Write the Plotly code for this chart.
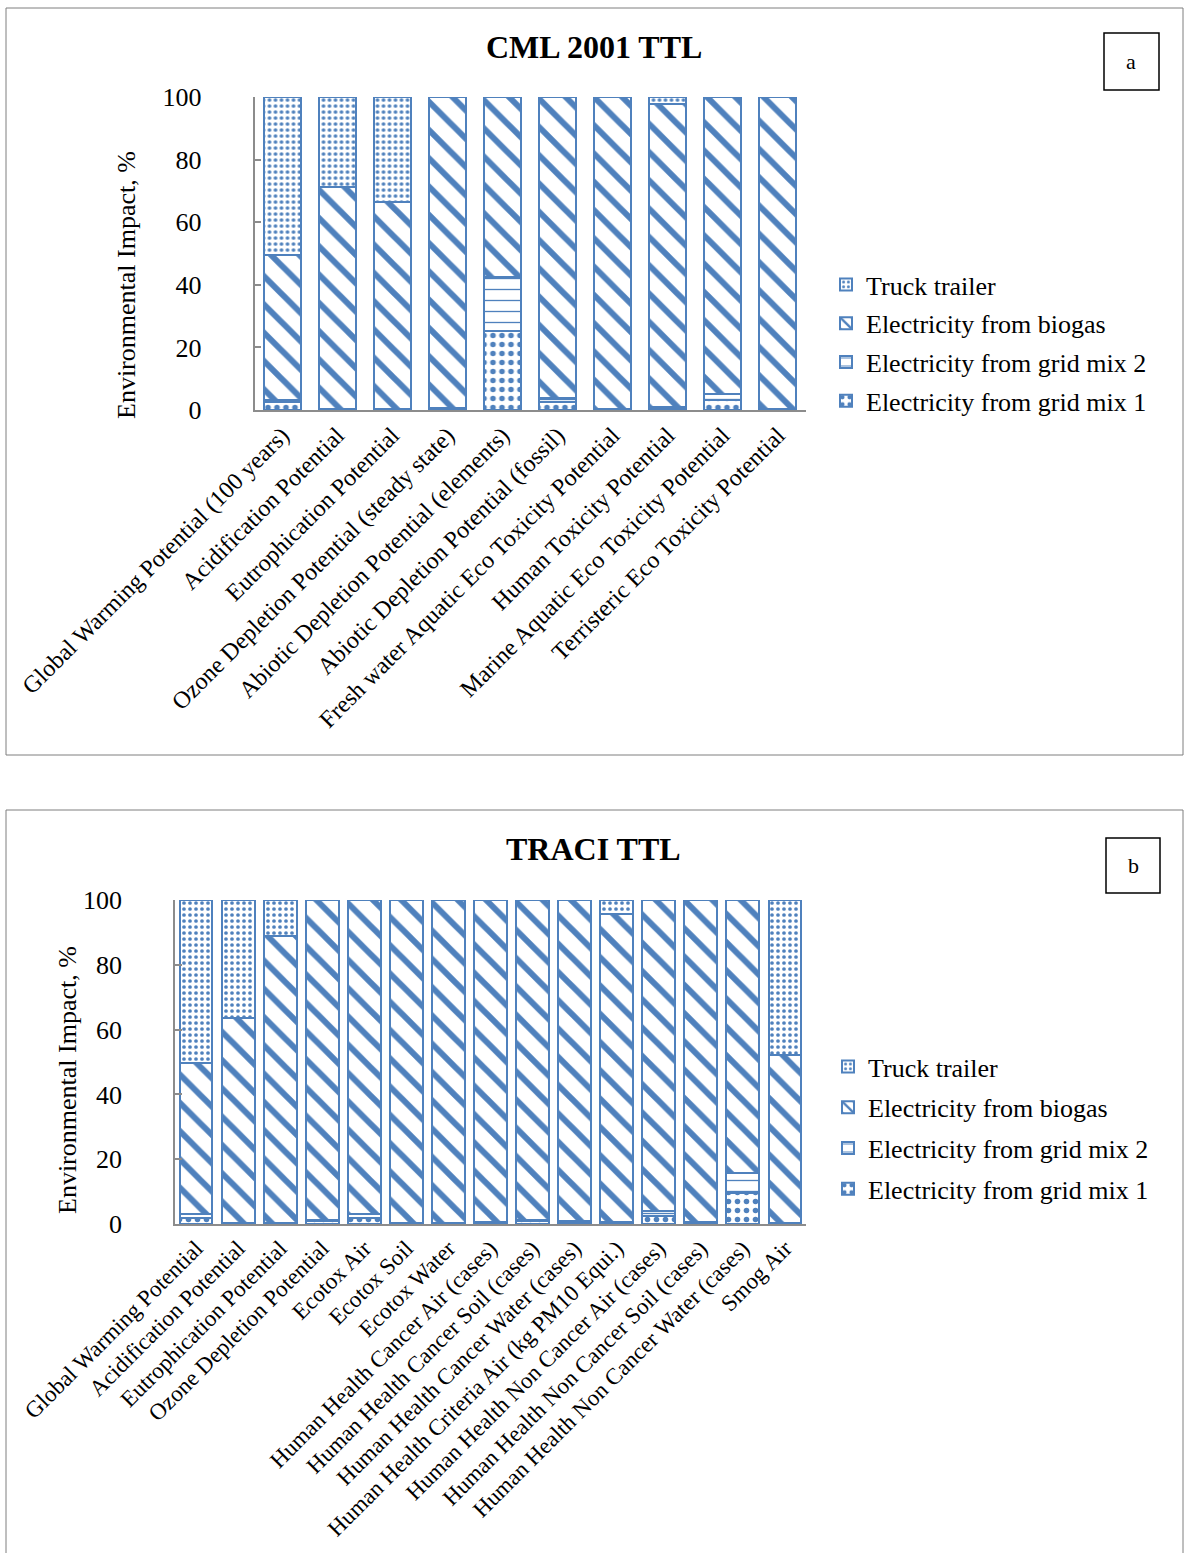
import plotly.graph_objects as go

# ---------------- data ----------------
series = ["Electricity from grid mix 1", "Electricity from grid mix 2",
          "Electricity from biogas", "Truck trailer"]
legend_rank = {"Truck trailer": 1, "Electricity from biogas": 2,
               "Electricity from grid mix 2": 3, "Electricity from grid mix 1": 4}

cats_a = ["Global Warming Potential (100 years)", "Acidification Potential",
          "Eutrophication Potential", "Ozone Depletion Potential (steady state)",
          "Abiotic Depletion Potential (elements)", "Abiotic Depletion Potential (fossil)",
          "Fresh water Aquatic Eco Toxicity Potential", "Human Toxicity Potential",
          "Marine Aquatic Eco Toxicity Potential", "Terristeric Eco Toxicity Potential"]
grid1_a = [2.4, 0.3, 0.2, 0.6, 25.3, 2.5, 0.3, 0.7, 3.3, 0.2]
grid2_a = [0.9, 0.1, 0.1, 0.2, 17.1, 1.2, 0.1, 0.3, 1.9, 0.1]
biogas_a = [46.2, 71.0, 66.2, 99.2, 57.6, 96.3, 99.6, 96.9, 94.8, 99.7]
truck_a = [50.5, 28.6, 33.5, 0.0, 0.0, 0.0, 0.0, 2.1, 0.0, 0.0]

cats_b = ["Global Warming Potential", "Acidification Potential", "Eutrophication Potential",
          "Ozone Depletion Potential", "Ecotox Air", "Ecotox Soil", "Ecotox Water",
          "Human Health Cancer Air (cases)", "Human Health Cancer Soil (cases)",
          "Human Health Cancer Water (cases)", "Human Health Criteria Air (kg PM10 Equi.)",
          "Human Health Non Cancer Air (cases)", "Human Health Non Cancer Soil (cases)",
          "Human Health Non Cancer Water (cases)", "Smog Air"]
grid1_b = [2.0, 0.2, 0.2, 0.8, 2.0, 0.2, 0.3, 0.5, 1.0, 0.6, 0.5, 2.4, 0.5, 9.5, 0.3]
grid2_b = [1.0, 0.1, 0.1, 0.4, 1.0, 0.1, 0.1, 0.2, 0.3, 0.4, 0.2, 1.5, 0.2, 6.3, 0.1]
biogas_b = [46.7, 63.4, 88.7, 98.8, 97.0, 99.7, 99.6, 99.3, 98.7, 99.0, 94.9, 96.1, 99.3, 84.2, 51.9]
truck_b = [50.3, 36.3, 11.0, 0.0, 0.0, 0.0, 0.0, 0.0, 0.0, 0.0, 4.4, 0.0, 0.0, 0.0, 47.7]

y_ticks = [0, 20, 40, 60, 80, 100]

# ---------------- styling ----------------
W, H = 1187, 1553
BLUE = "#4F81BD"
AXIS_GRAY = "#8c8c8c"
FONT = "Liberation Serif"


def fx(px):
    return px / W


def fy(py):
    return 1 - py / H


patterns = {
    "Electricity from grid mix 1": dict(shape=".", size=9, solidity=0.3),
    "Electricity from grid mix 2": dict(shape="-", size=11, solidity=0.12),
    "Electricity from biogas": dict(shape="\\", size=20, solidity=0.3),
    "Truck trailer": dict(shape=".", size=6, solidity=0.3),
}

fig = go.Figure()


def add_panel(cats, values, xaxis, yaxis, legend, width, tag):
    for name, vals in zip(series, values):
        p = patterns[name]
        fig.add_trace(go.Bar(
            x=cats, y=vals, name=name, width=width,
            xaxis=xaxis, yaxis=yaxis, legend=legend,
            legendgroup=tag + name, legendrank=legend_rank[name], cliponaxis=False,
            marker=dict(color="white", line=dict(color=BLUE, width=2),
                        pattern=dict(shape=p["shape"], size=p["size"],
                                     solidity=p["solidity"], fgcolor=BLUE,
                                     bgcolor="white", fillmode="replace")),
            hovertemplate="%{x}<br>" + name + ": %{y}%<extra></extra>",
        ))


add_panel(cats_a, [grid1_a, grid2_a, biogas_a, truck_a], "x", "y", "legend", 0.67, "a")
add_panel(cats_b, [grid1_b, grid2_b, biogas_b, truck_b], "x2", "y2", "legend2", 0.78, "b")

xcommon = dict(type="category", showline=True, linecolor=AXIS_GRAY, linewidth=1.5,
               ticks="", tickangle=-45, showgrid=False, zeroline=False, automargin=False)
ycommon = dict(range=[0, 100], tickvals=y_ticks, showline=True, linecolor=AXIS_GRAY,
               linewidth=1.5, ticks="inside", ticklen=7, tickcolor=AXIS_GRAY, tickwidth=1.5,
               showgrid=False, zeroline=False, ticklabelstandoff=46, automargin=False,
               tickfont=dict(family=FONT, size=26, color="black"))

legend_common = dict(xanchor="left", yanchor="top", traceorder="grouped",
                     xref="container", yref="container",
                     bgcolor="rgba(0,0,0,0)", font=dict(family=FONT, size=26, color="black"))

fig.update_layout(
    template="none",
    width=W, height=H,
    margin=dict(l=0, r=0, t=0, b=0, autoexpand=False),
    paper_bgcolor="white", plot_bgcolor="rgba(0,0,0,0)",
    barmode="stack",
    font=dict(family=FONT, color="black"),
    xaxis=dict(xcommon, domain=[fx(254.5), fx(805.5)], range=[-0.5, 9.5], anchor="y",
               tickfont=dict(family=FONT, size=24, color="black")),
    yaxis=dict(ycommon, domain=[fy(410), fy(97)], anchor="x"),
    xaxis2=dict(xcommon, domain=[fx(175), fx(806)], range=[-0.5, 14.5], anchor="y2",
                tickfont=dict(family=FONT, size=23, color="black")),
    yaxis2=dict(ycommon, domain=[fy(1224), fy(900)], anchor="x2"),
    legend=dict(legend_common, x=fx(826), y=fy(261), tracegroupgap=2),
    legend2=dict(legend_common, x=fx(828), y=fy(1043), tracegroupgap=4),
    showlegend=True,
)

# panel frames and letter boxes
shapes = [
    dict(type="rect", xref="paper", yref="paper", x0=fx(6), x1=fx(1183), y0=fy(755), y1=fy(8),
         line=dict(color="#7f7f7f", width=1)),
    dict(type="rect", xref="paper", yref="paper", x0=fx(6), x1=fx(1183), y0=fy(1570), y1=fy(810),
         line=dict(color="#7f7f7f", width=1)),
    dict(type="rect", xref="paper", yref="paper", x0=fx(1104), x1=fx(1159), y0=fy(90), y1=fy(33),
         line=dict(color="black", width=1.5)),
    dict(type="rect", xref="paper", yref="paper", x0=fx(1106), x1=fx(1160), y0=fy(893), y1=fy(838),
         line=dict(color="black", width=1.5)),
]

annotations = [
    dict(text="<b>CML 2001 TTL</b>", x=fx(594), y=fy(47), font=dict(size=32)),
    dict(text="<b>TRACI TTL</b>", x=fx(594), y=fy(849), font=dict(size=32)),
    dict(text="a", x=fx(1131), y=fy(61), font=dict(size=22)),
    dict(text="b", x=fx(1133), y=fy(865), font=dict(size=22)),
    dict(text="Environmental Impact, %", x=fx(127), y=fy(285), textangle=-90, font=dict(size=26)),
    dict(text="Environmental Impact, %", x=fx(67), y=fy(1080), textangle=-90, font=dict(size=26)),
]
for a in annotations:
    a.update(xref="paper", yref="paper", xanchor="center", yanchor="middle", showarrow=False)
    a["font"].update(family=FONT, color="black")

fig.update_layout(shapes=shapes, annotations=annotations)

fig.write_html("out.html")
